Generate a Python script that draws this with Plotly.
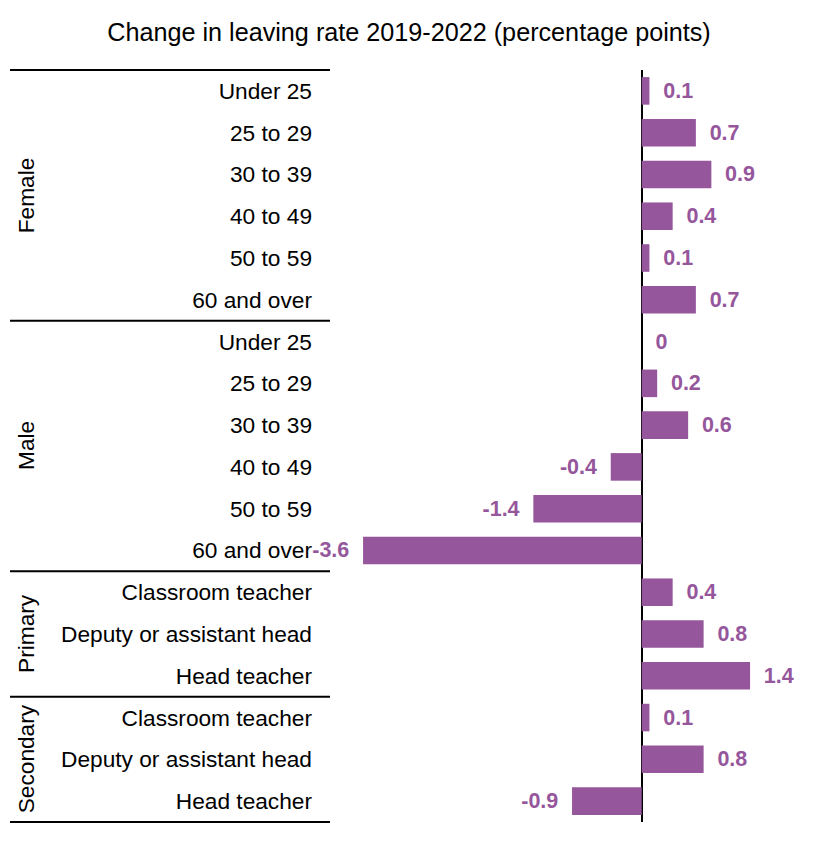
import plotly.graph_objects as go

# data
groups = ["Female", "Male", "Primary", "Secondary"]
group_sizes = [6, 6, 3, 3]
labels = ["Under 25", "25 to 29", "30 to 39", "40 to 49", "50 to 59", "60 and over",
          "Under 25", "25 to 29", "30 to 39", "40 to 49", "50 to 59", "60 and over",
          "Classroom teacher", "Deputy or assistant head", "Head teacher",
          "Classroom teacher", "Deputy or assistant head", "Head teacher"]
values = [0.1, 0.7, 0.9, 0.4, 0.1, 0.7,
          0, 0.2, 0.6, -0.4, -1.4, -3.6,
          0.4, 0.8, 1.4,
          0.1, 0.8, -0.9]

purple = "#95569c"
# page body has an 8px margin, so the figure is a bit smaller than the window
W, H = 811, 837
font = "Liberation Sans, Arial, sans-serif"

rows = list(range(len(labels)))
# pad text away from bar ends
texts = [("\u2002" + f"{v:g}") if v >= 0 else (f"{v:g}" + "\u2002") for v in values]

fig = go.Figure(go.Bar(
    x=values, y=rows, orientation="h",
    marker_color=purple, marker_line_width=0,
    text=texts, textposition="outside", cliponaxis=False,
    textfont=dict(family=font, size=21.5, color=purple, weight="bold"),
))

x0_px = 327
zero_px, px_per_unit = 633.7, 77.4
fig.update_xaxes(domain=[x0_px / W, 1],
                 range=[(x0_px - zero_px) / px_per_unit, (W - zero_px) / px_per_unit],
                 showgrid=False, showticklabels=False, zeroline=True,
                 zerolinecolor="black", zerolinewidth=2, fixedrange=True)
fig.update_yaxes(tickvals=rows, ticktext=labels, range=[len(labels) - 0.5, -0.5],
                 showgrid=False, zeroline=False, ticks="", ticklabelstandoff=22,
                 tickfont=dict(family=font, size=22.7, color="black"))

# group separators and group labels (paper y spans the plot area)
top_px, bottom_px = 62, 814
n = len(labels)
shapes, annos = [], []
bounds = [0]
for s in group_sizes:
    bounds.append(bounds[-1] + s)
for b in bounds:
    yp = 1 - b / n
    shapes.append(dict(type="line", xref="paper", yref="paper", x0=2 / W, x1=322 / W,
                       y0=yp, y1=yp, line=dict(color="black", width=2)))
for g, a, b in zip(groups, bounds[:-1], bounds[1:]):
    yc = 1 - (a + b) / 2 / n
    annos.append(dict(text=g, xref="paper", yref="paper", x=18 / W, y=yc,
                      textangle=-90, showarrow=False, xanchor="center", yanchor="middle",
                      font=dict(family=font, size=22.7, color="black")))

fig.update_layout(
    width=W, height=H, bargap=0.34, showlegend=False,
    plot_bgcolor="white", paper_bgcolor="white",
    margin=dict(l=0, r=0, t=top_px, b=H - bottom_px),
    title=dict(text="Change in leaving rate 2019-2022 (percentage points)",
               x=401 / W, xanchor="center", y=1 - 24 / H, yanchor="middle",
               yref="container", font=dict(family=font, size=25.2, color="black")),
    shapes=shapes, annotations=annos,
)

fig.write_html("out.html")
